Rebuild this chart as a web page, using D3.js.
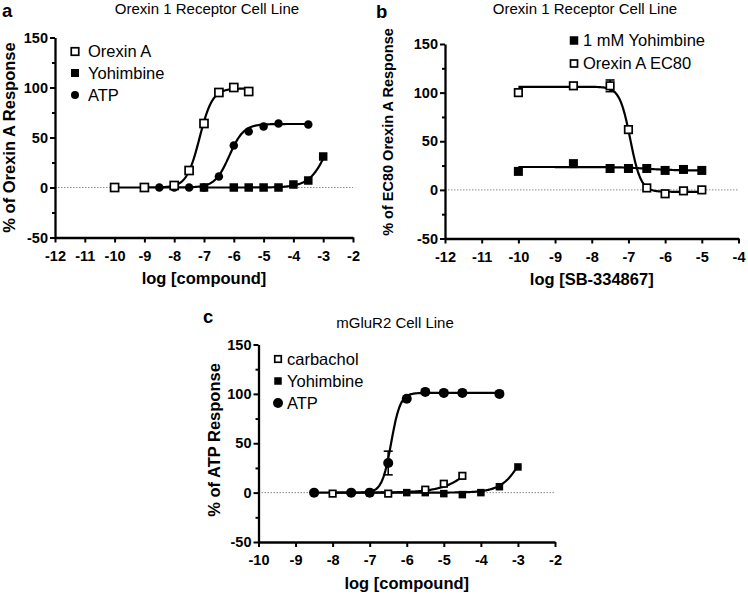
<!DOCTYPE html>
<html><head><meta charset="utf-8">
<script src="https://cdn.jsdelivr.net/npm/d3@7"></script>
<style>
body{margin:0;background:#fff}
svg{display:block}
text{font-family:"Liberation Sans",Arial,Helvetica,sans-serif;fill:#000}
</style>
</head><body>
<svg id="chart" width="748" height="594"></svg>
<script>
// ---------- Panel a : Orexin 1 Receptor Cell Line ----------
const aOrexinX = [-10, -9, -8, -7.5, -7, -6.5, -6, -5.5];
const aOrexinY = [0, 0, 2, 17, 64, 95, 100, 96];
const aAtpX = [-8.5, -8, -7.5, -7, -6.5, -6, -5.5, -5, -4.5, -3.5];
const aAtpY = [0, 0, 0, 0, 11, 42, 56, 61, 64, 63];
const aYohX = [-7, -6, -5.5, -5, -4.5, -4, -3.5, -3];
const aYohY = [0, 0, 0, 0, 0, 3, 7, 31];
// fitted curves: [bottom, top, logEC50, hill, xFrom, xTo]
const aOrexinFit = [0, 99, -7.15, 2, -10, -5.5];
const aAtpFit = [0, 63.5, -6.15, 1.8, -8.5, -3.5];
const aYohFit = [0, 100, -2.7, 1.3, -7, -3];

// ---------- Panel b : Orexin 1 Receptor Cell Line (SB-334867) ----------
const bX = [-10, -8.5, -7.5, -7, -6.5, -6, -5.5, -5];
const bYohY = [19, 27, 22, 22, 22, 20, 21, 20];
const bOrexinY = [100, 107, 107, 62, 2, -4, -1, 0];
const bOrexinErr = [0, 0, 6, 0, 0, 0, 0, 0];
const bYohFit = [20, 23.5, -6.5, -1.2, -10, -5];
const bOrexinFit = [-2, 106, -6.95, -3, -10, -5];

// ---------- Panel c : mGluR2 Cell Line ----------
const cCarbX = [-8, -6.5, -5.5, -5, -4.5];
const cCarbY = [-1, -1, 3, 9, 17];
const cYohX = [-7, -6, -5.5, -5, -4.5, -4, -3.5, -3];
const cYohY = [0, 0, 0, -1, -2, 0, 6, 26];
const cAtpX = [-8.5, -7.5, -7, -6.5, -6, -5.5, -5, -4.5, -3.5];
const cAtpY = [0, 0, 0, 30, 95, 102, 101, 101, 100];
const cAtpErr = [0, 0, 0, 12, 0, 0, 0, 0, 0];
const cCarbFit = [0, 100, -3.75, 0.95, -8, -4.5];
const cYohFit = [0, 100, -2.7, 1.4, -7, -3];
const cAtpFit = [0, 101, -6.42, 3.5, -8.5, -3.5];

// tick labels
const yTicks = [-50, 0, 50, 100, 150];
const yMinor = [-25, 25, 75, 125];
const xTicksAB = [-12, -11, -10, -9, -8, -7, -6, -5, -4, -3, -2];
const xTicksB = [-12, -11, -10, -9, -8, -7, -6, -5, -4];
const xTicksC = [-10, -9, -8, -7, -6, -5, -4, -3, -2];

const FONT = '"Liberation Sans",Arial,Helvetica,sans-serif';
const svg = d3.select('#chart');

function hill(p, x) {
  return p[0] + (p[1] - p[0]) / (1 + Math.pow(10, (p[2] - x) * p[3]));
}

function marker(g, type, cx, cy, size) {
  if (type === 'circle') {
    g.append('circle').attr('cx', cx).attr('cy', cy).attr('r', size / 2).attr('fill', '#000');
  } else if (type === 'filled') {
    g.append('rect').attr('x', cx - size / 2).attr('y', cy - size / 2)
      .attr('width', size).attr('height', size).attr('fill', '#000');
  } else {
    g.append('rect').attr('x', cx - size / 2 + 0.75).attr('y', cy - size / 2 + 0.75)
      .attr('width', size - 1.5).attr('height', size - 1.5)
      .attr('fill', '#fff').attr('stroke', '#000').attr('stroke-width', 1.7);
  }
}

function panel(cfg) {
  const g = svg.append('g');
  const x = d3.scaleLinear().domain(cfg.xDomain).range(cfg.xRange);
  const y = d3.scaleLinear().domain([-50, 150]).range(cfg.yRange);

  // zero reference line
  g.append('line')
    .attr('x1', x(cfg.xDomain[0])).attr('x2', x(cfg.xDomain[1]))
    .attr('y1', y(0)).attr('y2', y(0))
    .attr('stroke', '#8c8c8c').attr('stroke-width', 1).attr('stroke-dasharray', '1.5,1.5');

  // axes
  const yMinorAx = g.append('g').attr('transform', `translate(${x(cfg.xDomain[0])},0)`)
    .call(d3.axisLeft(y).tickValues(yMinor).tickSize(3).tickSizeOuter(0).tickFormat(''));
  const yAx = g.append('g').attr('transform', `translate(${x(cfg.xDomain[0])},0)`)
    .call(d3.axisLeft(y).tickValues(yTicks).tickSize(5).tickSizeOuter(0).tickPadding(2)
      .tickFormat(d => String(d)));
  const xAx = g.append('g').attr('transform', `translate(0,${y(-50)})`)
    .call(d3.axisBottom(x).tickValues(cfg.xTicks).tickSize(5).tickSizeOuter(0).tickPadding(8)
      .tickFormat(d => String(d)));
  [yMinorAx, yAx, xAx].forEach(a => {
    a.select('.domain').attr('stroke', '#000').attr('stroke-width', 2.3);
    a.selectAll('.tick line').attr('stroke', '#000').attr('stroke-width', 2);
    a.selectAll('.tick text').attr('font-family', FONT).attr('font-size', 14.5)
      .attr('font-weight', 'bold').attr('fill', '#000');
  });
  yMinorAx.select('.domain').remove();

  // axis titles
  g.append('text').attr('x', (x(cfg.xDomain[0]) + x(cfg.xDomain[1])) / 2).attr('y', cfg.xTitleY)
    .attr('text-anchor', 'middle').attr('font-size', cfg.xTitleSize).attr('font-weight', 'bold')
    .text(cfg.xTitle);
  g.append('text')
    .attr('transform', `translate(${cfg.yTitleX},${cfg.yTitleCY}) rotate(-90)`)
    .attr('text-anchor', 'middle').attr('font-size', cfg.yTitleSize).attr('font-weight', 'bold')
    .text(cfg.yTitle);

  // panel letter and title
  g.append('text').attr('x', cfg.letterX).attr('y', cfg.letterY).attr('font-size', 18.5)
    .attr('font-weight', 'bold').text(cfg.letter);
  g.append('text').attr('x', cfg.titleX).attr('y', cfg.titleY).attr('text-anchor', 'middle')
    .attr('font-size', 15).text(cfg.title);

  const line = d3.line().x(d => x(d[0])).y(d => y(d[1]));

  // fitted curves
  cfg.series.forEach(s => {
    const f = s.fit;
    const pts = d3.range(f[4], f[5] + 1e-9, 0.02).map(v => [v, hill(f, v)]);
    g.append('path').attr('d', line(pts)).attr('fill', 'none')
      .attr('stroke', '#000').attr('stroke-width', 2.2);
  });

  // error bars
  cfg.series.forEach(s => {
    s.x.forEach((xv, i) => {
      const e = s.err ? s.err[i] : 0;
      if (e > 0) {
        const cx = x(xv);
        g.append('line').attr('x1', cx).attr('x2', cx).attr('y1', y(s.y[i] - e)).attr('y2', y(s.y[i] + e))
          .attr('stroke', '#000').attr('stroke-width', 1.6);
        [s.y[i] - e, s.y[i] + e].forEach(v => {
          g.append('line').attr('x1', cx - 4.5).attr('x2', cx + 4.5).attr('y1', y(v)).attr('y2', y(v))
            .attr('stroke', '#000').attr('stroke-width', 1.6);
        });
      }
    });
  });
  // markers
  cfg.drawOrder.forEach(idx => {
    const s = cfg.series[idx];
    s.x.forEach((xv, i) => marker(g, s.type, x(xv), y(s.y[i]), s.size));
  });

  // legend
  cfg.legend.forEach((L, i) => {
    const cy = cfg.legY[i];
    marker(g, L.type, cfg.legMX, cy, L.size);
    g.append('text').attr('x', cfg.legTX).attr('y', cy).attr('dy', '0.36em')
      .attr('font-size', cfg.legSize).text(L.label);
  });
}

// Panel a
panel({
  xDomain: [-12, -2], xRange: [55, 353], yRange: [237.5, 37.5], xTicks: xTicksAB,
  xTitle: 'log [compound]', xTitleY: 284, xTitleSize: 16.5,
  yTitle: '% of Orexin A Response', yTitleX: 14.5, yTitleCY: 137.5, yTitleSize: 16.5,
  letter: 'a', letterX: 2, letterY: 17, title: 'Orexin 1 Receptor Cell Line', titleX: 207, titleY: 14,
  series: [
    {x: aOrexinX, y: aOrexinY, fit: aOrexinFit, type: 'open', size: 9.5},
    {x: aYohX, y: aYohY, fit: aYohFit, type: 'filled', size: 8.5},
    {x: aAtpX, y: aAtpY, fit: aAtpFit, type: 'circle', size: 8.5}
  ],
  drawOrder: [2, 1, 0],
  legend: [
    {type: 'open', size: 9, label: 'Orexin A'},
    {type: 'filled', size: 8, label: 'Yohimbine'},
    {type: 'circle', size: 8, label: 'ATP'}
  ],
  legMX: 75, legTX: 88, legY: [51.5, 73, 95], legSize: 16.5
});

// Panel b
panel({
  xDomain: [-12, -4], xRange: [445, 738.5], yRange: [238.5, 44], xTicks: xTicksB,
  xTitle: 'log [SB-334867]', xTitleY: 285, xTitleSize: 16.5,
  yTitle: '% of EC80 Orexin A Response', yTitleX: 393, yTitleCY: 132, yTitleSize: 14.5,
  letter: 'b', letterX: 376, letterY: 17.5, title: 'Orexin 1 Receptor Cell Line', titleX: 585, titleY: 14,
  series: [
    {x: bX, y: bYohY, fit: bYohFit, type: 'filled', size: 9},
    {x: bX, y: bOrexinY, fit: bOrexinFit, type: 'open', size: 9, err: bOrexinErr}
  ],
  drawOrder: [0, 1],
  legend: [
    {type: 'filled', size: 8.5, label: '1 mM Yohimbine'},
    {type: 'open', size: 8.5, label: 'Orexin A EC80'}
  ],
  legMX: 574, legTX: 583, legY: [40.5, 63.5], legSize: 16.5
});

// Panel c
panel({
  xDomain: [-10, -2], xRange: [258.5, 555], yRange: [542, 344.5], xTicks: xTicksC,
  xTitle: 'log [compound]', xTitleY: 589, xTitleSize: 16.5,
  yTitle: '% of ATP Response', yTitleX: 219.5, yTitleCY: 440, yTitleSize: 16.5,
  letter: 'c', letterX: 203, letterY: 323, title: 'mGluR2 Cell Line', titleX: 395, titleY: 328,
  series: [
    {x: cCarbX, y: cCarbY, fit: cCarbFit, type: 'open', size: 8},
    {x: cYohX, y: cYohY, fit: cYohFit, type: 'filled', size: 7.5},
    {x: cAtpX, y: cAtpY, fit: cAtpFit, type: 'circle', size: 10, err: cAtpErr}
  ],
  drawOrder: [2, 1, 0],
  legend: [
    {type: 'open', size: 8, label: 'carbachol'},
    {type: 'filled', size: 7.5, label: 'Yohimbine'},
    {type: 'circle', size: 10, label: 'ATP'}
  ],
  legMX: 278, legTX: 287, legY: [359, 381, 403], legSize: 16.5
});
</script>
</body></html>
